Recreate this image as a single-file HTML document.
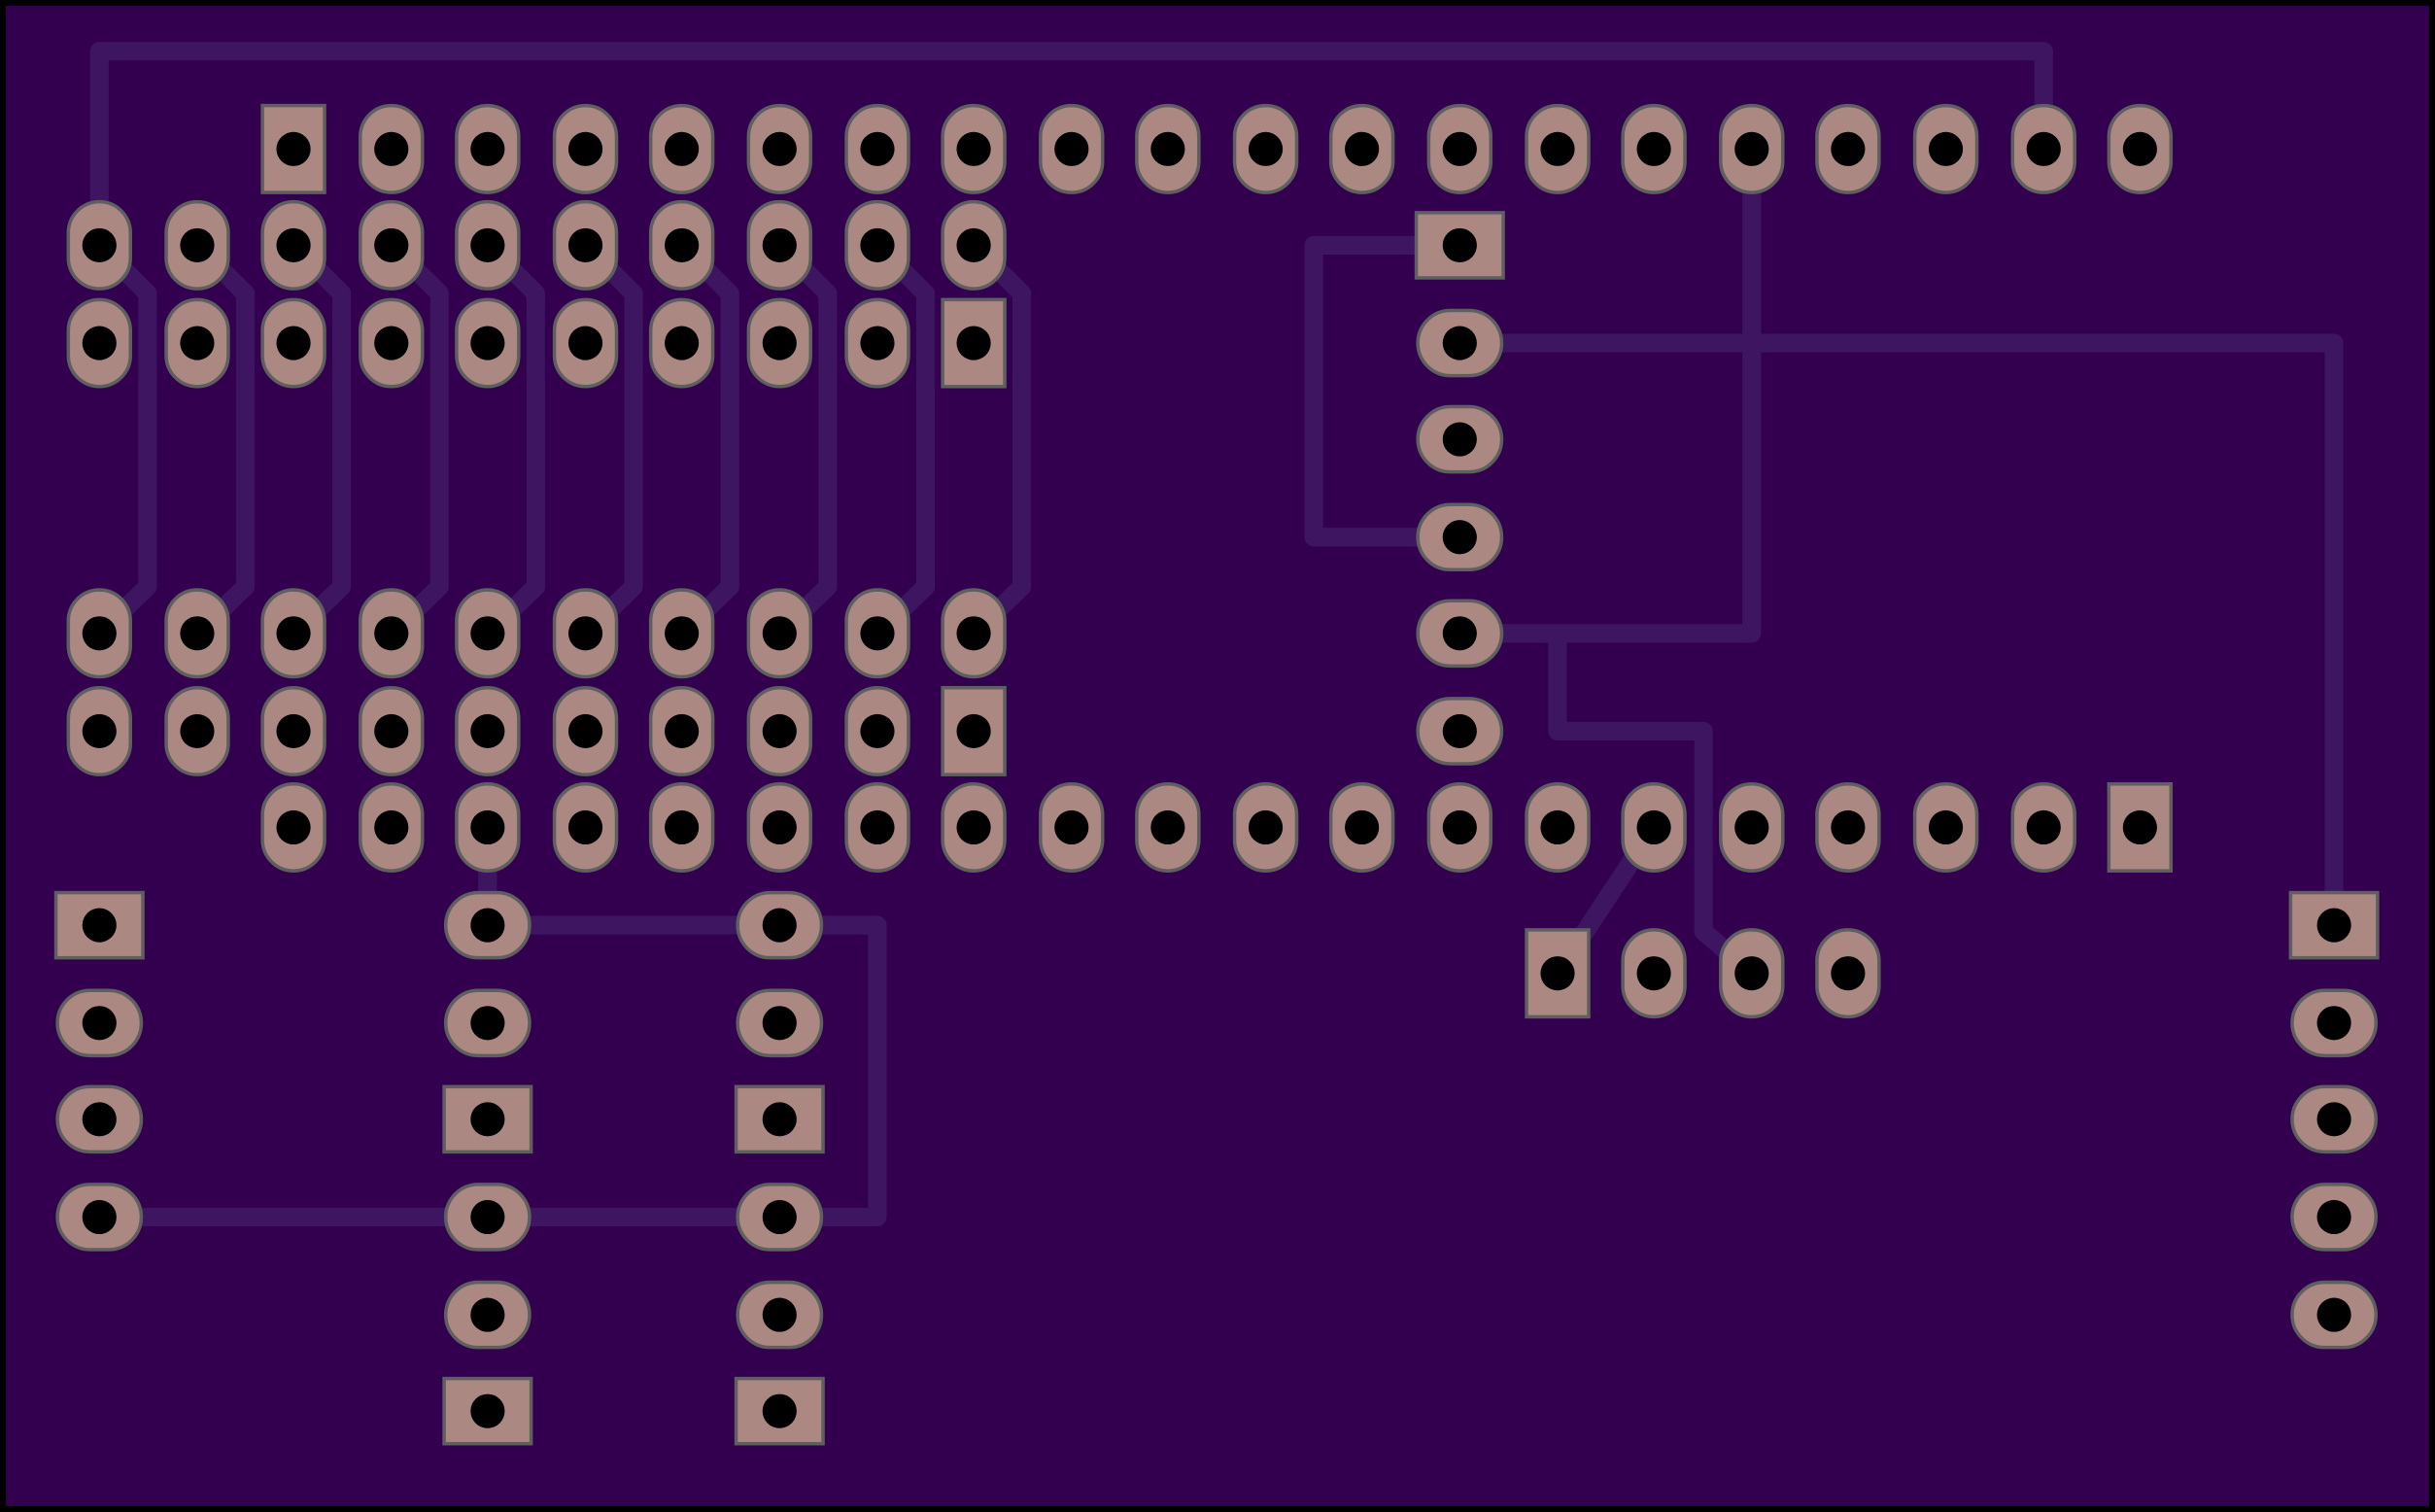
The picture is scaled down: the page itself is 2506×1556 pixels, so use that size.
<!DOCTYPE html>
<html><head><meta charset="utf-8"><style>html,body{margin:0;padding:0;background:#000;overflow:hidden}svg{display:block}</style></head>
<body>
<svg width="2506" height="1556" viewBox="0 0 1568 974" preserveAspectRatio="none" xmlns="http://www.w3.org/2000/svg">
<defs>
<g id="vo"><rect x="-20" y="-28" width="40" height="56" rx="20" ry="20" fill="#ac8882" stroke="#5f5f5f" stroke-width="2.2"/><circle r="11" fill="#000"/></g>
<g id="vs"><rect x="-20" y="-28" width="40" height="56" fill="#ac8882" stroke="#5f5f5f" stroke-width="2.2"/><circle r="11" fill="#000"/></g>
<g id="ho"><rect x="-27" y="-21" width="54" height="42" rx="21" ry="21" fill="#ac8882" stroke="#5f5f5f" stroke-width="2.2"/><circle r="11" fill="#000"/></g>
<g id="hs"><rect x="-28" y="-21" width="56" height="42" fill="#ac8882" stroke="#5f5f5f" stroke-width="2.2"/><circle r="11" fill="#000"/></g>
</defs>
<rect x="0" y="0" width="1568" height="974" fill="#000"/>
<rect x="3.8" y="3.8" width="1560.4" height="966.4" fill="#32004f"/>
<g fill="none" stroke="#3e1560" stroke-width="12" stroke-linejoin="round" stroke-linecap="butt">
<path d="M64 158 V33 H1316 V96"/>
<path d="M64 158 L95 189 V378 L64 408"/>
<path d="M127 158 L158 189 V378 L127 408"/>
<path d="M189 158 L220 189 V378 L189 408"/>
<path d="M252 158 L283 189 V378 L252 408"/>
<path d="M314 158 L345 189 V378 L314 408"/>
<path d="M377 158 L408 189 V378 L377 408"/>
<path d="M439 158 L470 189 V378 L439 408"/>
<path d="M502 158 L533 189 V378 L502 408"/>
<path d="M565 158 L596 189 V378 L565 408"/>
<path d="M627 158 L658 189 V378 L627 408"/>
<path d="M940 158 H846 V346 H940"/>
<path d="M940 221 H1503 V596"/>
<path d="M1128 96 V408 H940"/>
<path d="M1003 408 V471 H1097 V600 L1128 627"/>
<path d="M1065 533 L1003 627"/>
<path d="M314 533 V596 H565 V784 H502"/>
<path d="M64 784 H502"/>
</g>
<g>
<use href="#vs" x="189" y="96"/>
<use href="#vo" x="252" y="96"/><use href="#vo" x="314" y="96"/><use href="#vo" x="377" y="96"/><use href="#vo" x="439" y="96"/><use href="#vo" x="502" y="96"/><use href="#vo" x="565" y="96"/><use href="#vo" x="627" y="96"/><use href="#vo" x="690" y="96"/><use href="#vo" x="752" y="96"/><use href="#vo" x="815" y="96"/><use href="#vo" x="877" y="96"/><use href="#vo" x="940" y="96"/><use href="#vo" x="1003" y="96"/><use href="#vo" x="1065" y="96"/><use href="#vo" x="1128" y="96"/><use href="#vo" x="1190" y="96"/><use href="#vo" x="1253" y="96"/><use href="#vo" x="1316" y="96"/><use href="#vo" x="1378" y="96"/>

<use href="#vo" x="64" y="158"/><use href="#vo" x="127" y="158"/><use href="#vo" x="189" y="158"/><use href="#vo" x="252" y="158"/><use href="#vo" x="314" y="158"/><use href="#vo" x="377" y="158"/><use href="#vo" x="439" y="158"/><use href="#vo" x="502" y="158"/><use href="#vo" x="565" y="158"/><use href="#vo" x="627" y="158"/>
<use href="#vo" x="64" y="221"/><use href="#vo" x="127" y="221"/><use href="#vo" x="189" y="221"/><use href="#vo" x="252" y="221"/><use href="#vo" x="314" y="221"/><use href="#vo" x="377" y="221"/><use href="#vo" x="439" y="221"/><use href="#vo" x="502" y="221"/><use href="#vo" x="565" y="221"/><use href="#vs" x="627" y="221"/>
<use href="#vo" x="64" y="408"/><use href="#vo" x="127" y="408"/><use href="#vo" x="189" y="408"/><use href="#vo" x="252" y="408"/><use href="#vo" x="314" y="408"/><use href="#vo" x="377" y="408"/><use href="#vo" x="439" y="408"/><use href="#vo" x="502" y="408"/><use href="#vo" x="565" y="408"/><use href="#vo" x="627" y="408"/>
<use href="#vo" x="64" y="471"/><use href="#vo" x="127" y="471"/><use href="#vo" x="189" y="471"/><use href="#vo" x="252" y="471"/><use href="#vo" x="314" y="471"/><use href="#vo" x="377" y="471"/><use href="#vo" x="439" y="471"/><use href="#vo" x="502" y="471"/><use href="#vo" x="565" y="471"/><use href="#vs" x="627" y="471"/>

<use href="#vo" x="189" y="533"/><use href="#vo" x="252" y="533"/><use href="#vo" x="314" y="533"/><use href="#vo" x="377" y="533"/><use href="#vo" x="439" y="533"/><use href="#vo" x="502" y="533"/><use href="#vo" x="565" y="533"/><use href="#vo" x="627" y="533"/><use href="#vo" x="690" y="533"/><use href="#vo" x="752" y="533"/><use href="#vo" x="815" y="533"/><use href="#vo" x="877" y="533"/><use href="#vo" x="940" y="533"/><use href="#vo" x="1003" y="533"/><use href="#vo" x="1065" y="533"/><use href="#vo" x="1128" y="533"/><use href="#vo" x="1190" y="533"/><use href="#vo" x="1253" y="533"/><use href="#vo" x="1316" y="533"/><use href="#vs" x="1378" y="533"/>

<use href="#hs" x="940" y="158"/><use href="#ho" x="940" y="221"/><use href="#ho" x="940" y="283"/><use href="#ho" x="940" y="346"/><use href="#ho" x="940" y="408"/><use href="#ho" x="940" y="471"/>

<use href="#vs" x="1003" y="627"/><use href="#vo" x="1065" y="627"/><use href="#vo" x="1128" y="627"/><use href="#vo" x="1190" y="627"/>

<use href="#hs" x="64" y="596"/><use href="#ho" x="64" y="659"/><use href="#ho" x="64" y="721"/><use href="#ho" x="64" y="784"/>

<use href="#ho" x="314" y="596"/><use href="#ho" x="314" y="659"/><use href="#hs" x="314" y="721"/><use href="#ho" x="314" y="784"/><use href="#ho" x="314" y="847"/><use href="#hs" x="314" y="909"/>
<use href="#ho" x="502" y="596"/><use href="#ho" x="502" y="659"/><use href="#hs" x="502" y="721"/><use href="#ho" x="502" y="784"/><use href="#ho" x="502" y="847"/><use href="#hs" x="502" y="909"/>

<use href="#hs" x="1503" y="596"/><use href="#ho" x="1503" y="659"/><use href="#ho" x="1503" y="721"/><use href="#ho" x="1503" y="784"/><use href="#ho" x="1503" y="847"/>
</g>
</svg>
</body></html>
